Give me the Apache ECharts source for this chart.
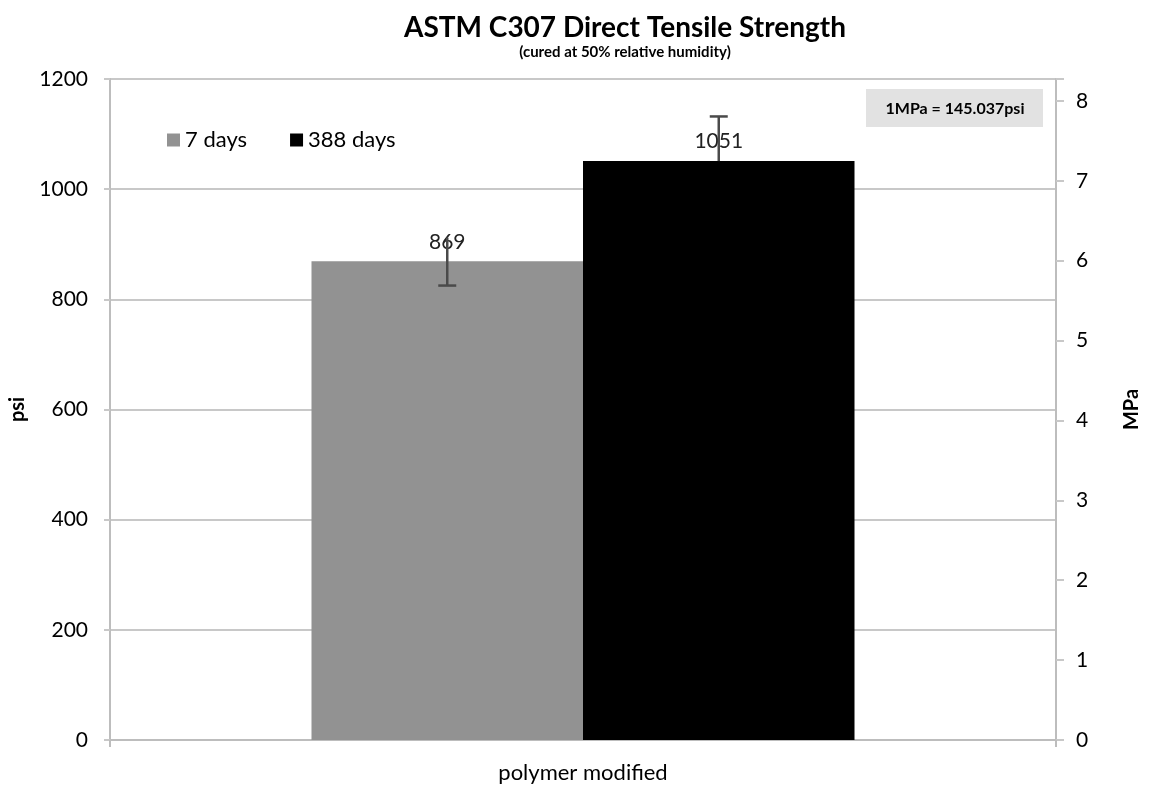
<!DOCTYPE html>
<html>
<head>
<meta charset="utf-8">
<script src="https://cdn.jsdelivr.net/npm/echarts@6/dist/echarts.min.js"></script>
<style>
html,body{margin:0;padding:0;background:#fff;}
#chart{width:1150px;height:787px;}
</style>
</head>
<body>
<div id="chart"></div>
<script>
const categories = ['polymer modified'];
const seriesNames = ['7 days', '388 days'];
const values7 = [869];
const values388 = [1051];
const err7Low = [825];
const err7High = [912];
const err388Low = [1051];
const err388High = [1132];
const psiPerMPa = 145.037;
const psiMax = 1200;
const psiInterval = 200;

const FONT = 'Lato';
const BAR_PCT = 0.287;
const chart = echarts.init(document.getElementById('chart'));

function errorSeries(name, low, high, dir, capLow, capHigh) {
  return {
    type: 'custom',
    name: name + ' error',
    xAxisIndex: 0, yAxisIndex: 0,
    silent: true,
    z: 5,
    data: categories.map((c, i) => [i, low[i], high[i]]),
    renderItem: function (params, api) {
      const band = api.size([1, 0])[0];
      const off = dir * band * BAR_PCT / 2;
      const pLow = api.coord([api.value(0), api.value(1)]);
      const pHigh = api.coord([api.value(0), api.value(2)]);
      const x = pLow[0] + off;
      const cap = 9;
      const st = { stroke: '#4a4a4a', lineWidth: 2.5 };
      const kids = [
        { type: 'line', shape: { x1: x, y1: pLow[1], x2: x, y2: pHigh[1] }, style: st }
      ];
      if (capLow) kids.push({ type: 'line', shape: { x1: x - cap, y1: pLow[1], x2: x + cap, y2: pLow[1] }, style: st });
      if (capHigh) kids.push({ type: 'line', shape: { x1: x - cap, y1: pHigh[1], x2: x + cap, y2: pHigh[1] }, style: st });
      return { type: 'group', children: kids };
    }
  };
}

const option = {
  animation: false,
  backgroundColor: '#fff',
  title: {
    text: 'ASTM C307 Direct Tensile Strength',
    subtext: '(cured at 50% relative humidity)',
    left: 620, textAlign: 'center', top: 9,
    itemGap: 3,
    textStyle: { fontFamily: FONT, fontWeight: 'bold', fontSize: 28, color: '#000' },
    subtextStyle: { fontFamily: FONT, fontWeight: 'bold', fontSize: 15, color: '#000' }
  },
  legend: {
    data: seriesNames,
    left: 162, top: 124,
    icon: 'rect', itemWidth: 13, itemHeight: 13, itemGap: 43,
    textStyle: { fontFamily: FONT, fontSize: 22, color: '#000' }
  },
  grid: { left: 108, right: 90, top: 79, bottom: 47, containLabel: false },
  xAxis: {
    type: 'category',
    data: categories,
    axisLine: { lineStyle: { color: '#bdbdbd', width: 2 } },
    axisTick: { show: true, length: 7, lineStyle: { color: '#bdbdbd', width: 2 } },
    axisLabel: { fontFamily: FONT, fontSize: 22, color: '#000', margin: 22 }
  },
  yAxis: [
    {
      type: 'value', min: 0, max: psiMax, interval: psiInterval,
      name: 'psi', nameLocation: 'middle', nameGap: 82, nameRotate: 90,
      nameTextStyle: { fontFamily: FONT, fontWeight: 'bold', fontSize: 20, color: '#000' },
      axisLine: { show: true, lineStyle: { color: '#bdbdbd', width: 2 } },
      axisTick: { show: true, length: 6, lineStyle: { color: '#c8c8c8', width: 2 } },
      splitLine: { lineStyle: { color: '#c8c8c8', width: 2 } },
      axisLabel: { fontFamily: FONT, fontSize: 21, color: '#000', margin: 22, formatter: v => String(v) }
    },
    {
      type: 'value', min: 0, max: psiMax / psiPerMPa, interval: 1,
      position: 'right',
      name: 'MPa', nameLocation: 'middle', nameGap: 66, nameRotate: 90,
      nameTextStyle: { fontFamily: FONT, fontWeight: 'bold', fontSize: 20, color: '#000' },
      axisLine: { show: true, lineStyle: { color: '#bdbdbd', width: 2 } },
      axisTick: { show: true, length: 8, lineStyle: { color: '#c8c8c8', width: 2 } },
      splitLine: { show: false },
      axisLabel: { fontFamily: FONT, fontSize: 21, color: '#000', margin: 20,
        formatter: v => (Math.abs(v - Math.round(v)) < 1e-6 ? String(Math.round(v)) : '') }
    }
  ],
  graphic: [
    {
      type: 'rect', left: 866, top: 89, z: 10,
      shape: { width: 177, height: 38 },
      style: { fill: '#e2e2e2' }
    },
    {
      type: 'text', x: 955, y: 109, z: 11,
      style: { text: '1MPa = 145.037psi', fontFamily: FONT, fontWeight: 'bold', fontSize: 16, fill: '#000',
        align: 'center', verticalAlign: 'middle' }
    }
  ],
  series: [
    {
      name: seriesNames[0], type: 'bar', data: values7,
      barWidth: (BAR_PCT * 100) + '%', barGap: '0%',
      itemStyle: { color: '#929292' },
      label: { show: true, position: 'top', distance: 9, fontFamily: FONT, fontSize: 21, color: '#222' },
      z: 2
    },
    {
      name: seriesNames[1], type: 'bar', data: values388,
      barWidth: (BAR_PCT * 100) + '%', barGap: '0%',
      itemStyle: { color: '#000' },
      label: { show: true, position: 'top', distance: 9, fontFamily: FONT, fontSize: 21, color: '#222' },
      z: 2
    },
    errorSeries(seriesNames[0], err7Low, err7High, -1, true, false),
    errorSeries(seriesNames[1], err388Low, err388High, 1, false, true)
  ]
};
chart.setOption(option);
</script>
</body>
</html>
